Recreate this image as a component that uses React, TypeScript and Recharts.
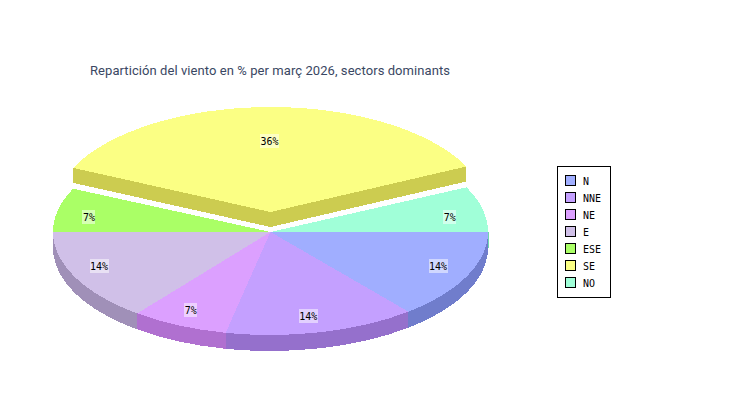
import React from 'react';
import { PieChart, Pie, Legend } from 'recharts';

const categories = ['N', 'NNE', 'NE', 'E', 'ESE', 'SE', 'NO'];
const values = [2, 2, 1, 2, 1, 5, 1];
const topColors = ['#a0aeff', '#c4a0ff', '#dca0ff', '#d0c0e8', '#aaff66', '#fbff84', '#a0ffd8'];
const wallColors = ['#707dcc', '#9570cc', '#b070d0', '#a090b8', '#80c840', '#cccc50', '#70d6ae'];

const CX = 270.5;
const CY = 232;
const RX = 217.5;
const TILT = 0.4736;
const TILT_SE = 0.4828;
const DEPTH = 16;
const DEPTH_SE = 15;
const EXPLODED = 5;
const LIFT = 20;

const labelFx = [0.855, 0.78, 0.846, 0.875, 0.856, 0, 0.845];
const labelFy = [0.76, 0.836, 0.84, 0.76, 0.65, 0.69, 0.65];

const rows = categories.map((name, i) => ({ name, value: values[i], fill: topColors[i] }));
const wallRows = categories.map((name, i) => ({ name, value: values[i], fill: wallColors[i] }));

// the original's 3D projection pulls the slice edges a little off the plain ellipse angle
const warp = (deg: number) => {
  const s = Math.abs(Math.sin((deg * Math.PI) / 180));
  if (deg <= 180) return deg - s;
  if (deg < 270) return deg - 2 * s;
  return deg;
};

const pt = (cx: number, cy: number, r: number, deg: number, tilt = TILT) => {
  const a = (warp(deg) * Math.PI) / 180;
  return [cx + r * Math.cos(a), cy + r * tilt * Math.sin(a)];
};

const TopSlice = (props: any) => {
  const { cx, cy, outerRadius: r, startAngle, endAngle, fill, index } = props;
  const se = index === EXPLODED;
  const y0 = se ? cy - LIFT : cy;
  const tilt = se ? TILT_SE : TILT;
  const a = -startAngle;
  const b = -endAngle;
  const [x1, y1] = pt(cx, y0, r, a, tilt);
  const [x2, y2] = pt(cx, y0, r, b, tilt);
  const large = b - a > 180 ? 1 : 0;
  return (
    <path
      d={`M${cx},${y0} L${x1},${y1} A${r},${r * tilt} 0 ${large} 1 ${x2},${y2} Z`}
      fill={fill}
      shapeRendering="crispEdges"
    />
  );
};

const WallSlice = (props: any) => {
  const { cx, cy, outerRadius: r, startAngle, endAngle, fill, index } = props;
  const a = Math.max(-startAngle, 0);
  const b = Math.min(-endAngle, 180);
  if (index === EXPLODED) {
    const y0 = cy - LIFT;
    const [x1, y1] = pt(cx, y0, r, -startAngle, TILT_SE);
    const [x2, y2] = pt(cx, y0, r, -endAngle, TILT_SE);
    return (
      <path
        d={`M${cx},${y0} L${x1},${y1} L${x1},${y1 + DEPTH_SE} L${cx},${y0 + DEPTH_SE} L${x2},${y2 + DEPTH_SE} L${x2},${y2} Z`}
        fill={fill}
        shapeRendering="crispEdges"
      />
    );
  }
  if (b <= a) {
    // back slices only show a thin line at the far edge of the disc
    const edge = -startAngle === 180 ? cx - r - 0.5 : cx + r + 0.5;
    return <path d={`M${edge},${cy} L${edge},${cy + DEPTH}`} stroke={fill} strokeWidth={1} shapeRendering="crispEdges" />;
  }
  const [x1, y1] = pt(cx, cy, r, a);
  const [x2, y2] = pt(cx, cy, r, b);
  const ry = r * TILT;
  return (
    <path
      d={`M${x1},${y1} A${r},${ry} 0 0 1 ${x2},${y2} L${x2},${y2 + DEPTH} A${r},${ry} 0 0 0 ${x1},${y1 + DEPTH} Z`}
      fill={fill}
      shapeRendering="crispEdges"
    />
  );
};

const SliceLabel = (props: any) => {
  const { cx, cy, outerRadius: r, midAngle, percent, index } = props;
  const se = index === EXPLODED;
  const y0 = se ? cy - LIFT : cy;
  const a = (midAngle * Math.PI) / 180;
  const x = (se ? cx - 1 : cx) + r * labelFx[index] * Math.cos(a);
  const y = y0 - r * TILT * labelFy[index] * Math.sin(a);
  const text = `${Math.round(percent * 100)}%`;
  const w = text.length * 6 + 1;
  return (
    <g>
      <rect x={Math.round(x - w / 2)} y={Math.round(y - 7)} width={w} height={14} fill="#fff" fillOpacity={0.5} shapeRendering="crispEdges" />
      <text
        x={x}
        y={y + 4}
        textAnchor="middle"
        fontFamily="'DejaVu Sans Mono'"
        fontSize={11}
        fill="#000"
        textLength={text.length * 6}
        lengthAdjust="spacingAndGlyphs"
      >
        {text}
      </text>
    </g>
  );
};

const LegendBox = ({ payload }: any) => {
  const items = (payload || []).filter((p: any) => p.type !== 'none');
  return (
    <svg width={54} height={132} style={{ display: 'block' }}>
      <rect x={0.5} y={0.5} width={53} height={131} fill="#fff" stroke="#000" shapeRendering="crispEdges" />
      {items.map((p: any, i: number) => (
        <g key={p.value}>
          <rect x={8.5} y={9.5 + i * 17} width={10} height={10} fill={p.color} stroke="#000" shapeRendering="crispEdges" />
          <text
            x={26}
            y={18.5 + i * 17}
            fontFamily="'DejaVu Sans Mono'"
            fontSize={11}
            fill="#000"
            textLength={String(p.value).length * 6}
            lengthAdjust="spacingAndGlyphs"
          >
            {p.value}
          </text>
        </g>
      ))}
    </svg>
  );
};

export default function App() {
  return (
    <div style={{ position: 'absolute', left: 0, top: 0, width: 750, height: 400, background: '#fff' }}>
      <PieChart width={750} height={400} margin={{ top: 0, right: 0, bottom: 0, left: 0 }}>
        <text x={90} y={75} fontFamily="Roboto" fontSize={13} fill="#3a4763" textLength={360}>
          Repartición del viento en % per març 2026, sectors dominants
        </text>
        <Pie
          data={wallRows}
          dataKey="value"
          nameKey="name"
          cx={CX}
          cy={CY}
          outerRadius={RX}
          startAngle={0}
          endAngle={-360}
          legendType="none"
          shape={WallSlice}
          isAnimationActive={false}
        />
        <Pie
          data={rows}
          dataKey="value"
          nameKey="name"
          cx={CX}
          cy={CY}
          outerRadius={RX}
          startAngle={0}
          endAngle={-360}
          shape={TopSlice}
          label={SliceLabel}
          labelLine={false}
          isAnimationActive={false}
        />
        <Legend
          content={<LegendBox />}
          itemSorter={null}
          wrapperStyle={{ position: 'absolute', left: 557, top: 166, width: 54, height: 132 }}
        />
      </PieChart>
    </div>
  );
}
